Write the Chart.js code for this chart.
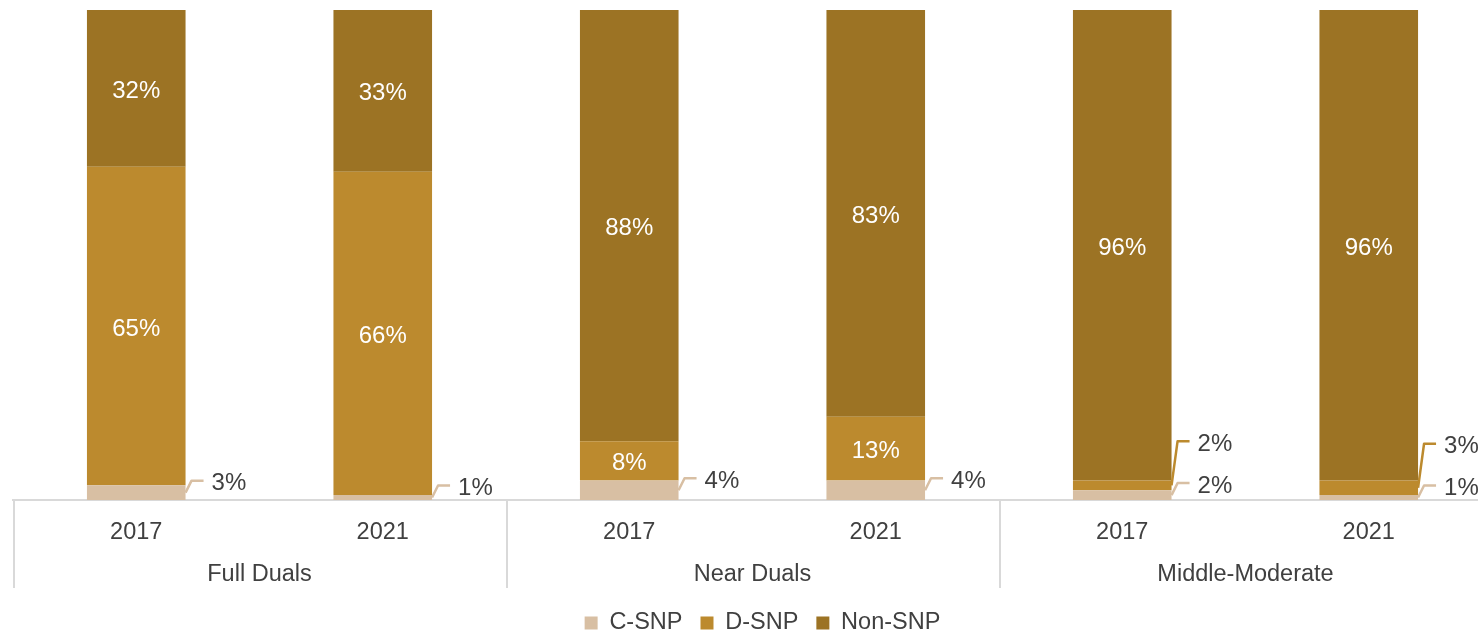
<!DOCTYPE html>
<html>
<head>
<meta charset="utf-8">
<script src="https://cdn.jsdelivr.net/npm/chart.js@4/dist/chart.umd.min.js"></script>
<style>
  html, body { margin: 0; padding: 0; background: #fff; overflow: hidden; }
  #wrap { width: 1478px; height: 630px; overflow: hidden; position: relative; }
  #box { width: 1526px; height: 630px; position: absolute; left: 0; top: 0; }
</style>
</head>
<body>
<div id="wrap"><div id="box"><canvas id="c"></canvas></div></div>
<script>
// Enrollment share by plan type, per dual-eligibility group and year (%)
const groups = ['Full Duals', 'Near Duals', 'Middle-Moderate'];
const years = ['2017', '2021', '2017', '2021', '2017', '2021'];
const seriesNames = ['C-SNP', 'D-SNP', 'Non-SNP'];
const cSnp = [3, 1, 4, 4, 2, 1];
const dSnp = [65, 66, 8, 13, 2, 3];
const nonSnp = [32, 33, 88, 83, 96, 96];

const colors = ['#D8BFA3', '#BC8A2E', '#9C7324'];
const FONT = '"Liberation Sans", Arial, Helvetica, sans-serif';
const TEXT = '#404040';
const LEGEND_PAD = 18;
const AXIS_H = 93.25;
const LEGEND_H = 630 - 10 - 490 - AXIS_H;
const LEGEND_SHIFT = 10;

// Segment value labels: white inside big segments, leader lines for thin ones
const segLabels = {
  id: 'segLabels',
  afterDatasetsDraw(chart) {
    const ctx = chart.ctx;
    const floor = chart.chartArea.bottom - 14;
    ctx.save();
    ctx.font = '24px ' + FONT;
    chart.data.datasets.forEach((ds, di) => {
      const meta = chart.getDatasetMeta(di);
      meta.data.forEach((bar, i) => {
        const v = ds.data[i];
        const top = Math.min(bar.y, bar.base), bot = Math.max(bar.y, bar.base);
        const mid = (top + bot) / 2;
        const txt = v + '%';
        if (v >= 5) {
          ctx.fillStyle = '#fff';
          ctx.textAlign = 'center';
          ctx.textBaseline = 'middle';
          ctx.fillText(txt, bar.x, mid + 3);
        } else {
          const right = bar.x + bar.width / 2;
          const ly = Math.min(mid - ds.leaderRise, floor);
          ctx.strokeStyle = ds.backgroundColor;
          ctx.lineWidth = 2.5;
          ctx.lineJoin = 'round';
          ctx.beginPath();
          ctx.moveTo(right, mid);
          ctx.lineTo(right + 6, ly);
          ctx.lineTo(right + 18, ly);
          ctx.stroke();
          ctx.fillStyle = TEXT;
          ctx.textAlign = 'left';
          ctx.textBaseline = 'middle';
          ctx.fillText(txt, right + 26, ly + 3);
        }
      });
    });
    ctx.restore();
  }
};

// Second axis tier: group names with separators between pairs of years
const groupAxis = {
  id: 'groupAxis',
  afterDraw(chart) {
    const x = chart.scales.x, ctx = chart.ctx;
    const top = x.top, bottom = top + 88;
    ctx.save();
    ctx.strokeStyle = '#D9D9D9';
    ctx.lineWidth = 2;
    for (let g = 0; g <= groups.length; g++) {
      const px = Math.round(x.getPixelForValue(g * 2 - 0.5)) + 1;
      ctx.beginPath();
      ctx.moveTo(px, top);
      ctx.lineTo(px, bottom);
      ctx.stroke();
    }
    ctx.fillStyle = TEXT;
    ctx.font = '23.5px ' + FONT;
    ctx.textAlign = 'center';
    ctx.textBaseline = 'middle';
    groups.forEach((name, k) => {
      const px = (x.getPixelForValue(2 * k) + x.getPixelForValue(2 * k + 1)) / 2;
      ctx.fillText(name, px, top + 75);
    });
    ctx.restore();
  }
};

// Keep the legend strip compact and centred under the visible plot
const compactLegend = {
  id: 'compactLegend',
  afterInit(chart) {
    const lg = chart.legend;
    if (!lg) return;
    const fit = lg.fit.bind(lg);
    lg.fit = function () { fit(); this.height = LEGEND_H; };
  },
  afterLayout(chart) {
    const lg = chart.legend;
    if (!lg) return;
    lg.left += LEGEND_SHIFT;
    lg.right += LEGEND_SHIFT;
  }
};

const seriesData = [cSnp, dSnp, nonSnp];
const leaderRise = [12, 44, 12];

new Chart(document.getElementById('c'), {
  type: 'bar',
  data: {
    labels: years,
    datasets: seriesNames.map((name, k) => ({
      label: name,
      data: seriesData[k],
      backgroundColor: colors[k],
      borderWidth: 0,
      categoryPercentage: 1,
      barPercentage: 0.4,
      leaderRise: leaderRise[k]
    }))
  },
  options: {
    responsive: true,
    maintainAspectRatio: false,
    animation: false,
    layout: { padding: { top: 10, left: 13, right: 34, bottom: 0 } },
    scales: {
      x: {
        stacked: true,
        grid: { display: false, drawTicks: false },
        border: { display: true, color: '#D9D9D9', width: 2 },
        ticks: { color: TEXT, font: { family: FONT, size: 23.5 }, padding: 18, maxRotation: 0, autoSkip: false },
        afterFit(scale) { scale.height = AXIS_H; }
      },
      y: {
        stacked: true,
        display: false,
        min: 0,
        max: 100
      }
    },
    plugins: {
      tooltip: { enabled: false },
      legend: {
        position: 'bottom',
        labels: {
          color: TEXT,
          font: { family: FONT, size: 23.5 },
          boxWidth: 13,
          boxHeight: 13,
          padding: LEGEND_PAD
        }
      }
    }
  },
  plugins: [segLabels, groupAxis, compactLegend]
});
</script>
</body>
</html>
